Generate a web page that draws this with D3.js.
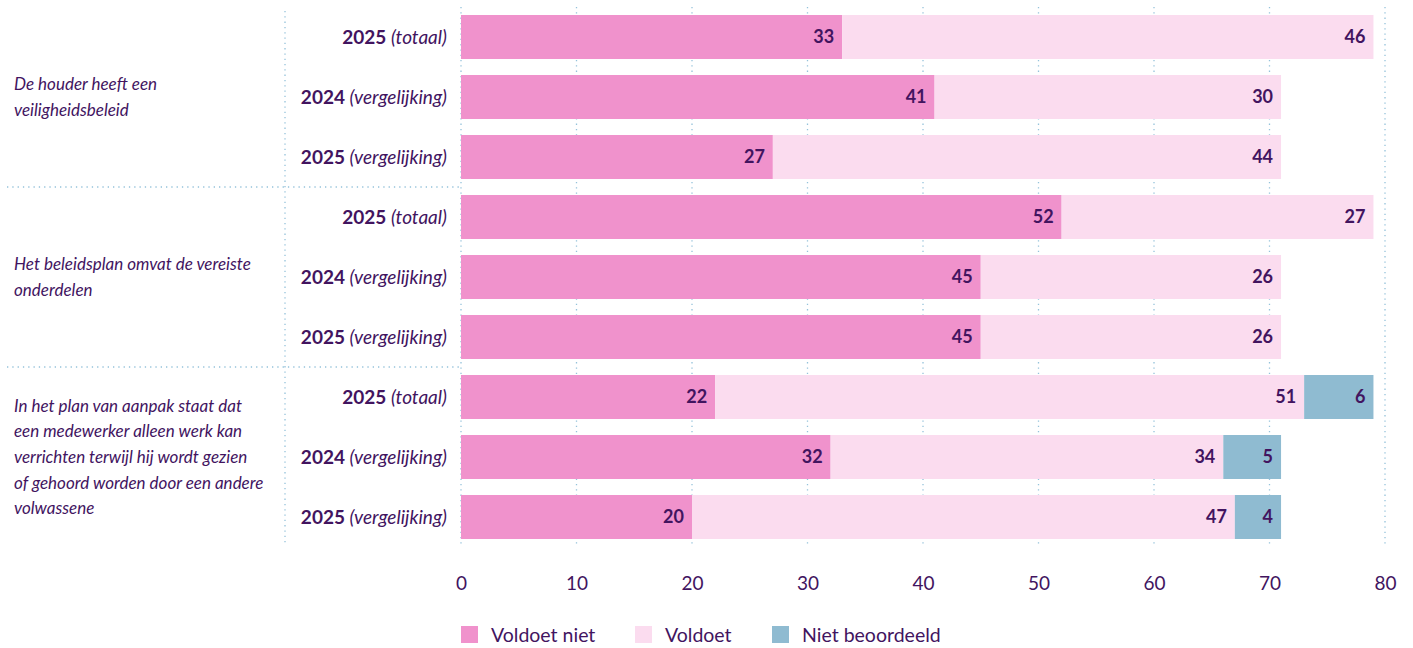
<!DOCTYPE html>
<html>
<head>
<meta charset="utf-8">
<script src="https://cdn.jsdelivr.net/npm/d3@7"></script>
<style>
    body { margin: 0; background: #fff; }
    text { font-family: Lato, "Open Sans", sans-serif; fill: #42145f; }
</style>
</head>
<body>
<script>
// Data
const groups = [
    ["De houder heeft een", "veiligheidsbeleid"],
    ["Het beleidsplan omvat de vereiste", "onderdelen"],
    ["In het plan van aanpak staat dat", "een medewerker alleen werk kan", "verrichten terwijl hij wordt gezien", "of gehoord worden door een andere", "volwassene"]
];
const rowYears = ["2025", "2024", "2025"];
const rowNotes = ["(totaal)", "(vergelijking)", "(vergelijking)"];
const seriesNames = ["Voldoet niet", "Voldoet", "Niet beoordeeld"];
const seriesColours = ["#f092cc", "#fbdcef", "#8fbbd1"];
const voldoetNiet = [33, 41, 27, 52, 45, 45, 22, 32, 20];
const voldoet = [46, 30, 44, 27, 26, 26, 51, 34, 47];
const nietBeoordeeld = [0, 0, 0, 0, 0, 0, 6, 5, 4];
const xTicks = [0, 10, 20, 30, 40, 50, 60, 70, 80];

const width = 1413, height = 648;
const margin = {top: 7, left: 461, right: 28};
const rowStep = 60;
const plotBottom = 545;
const gridColour = "#94c2da";

const svg = d3.select("body").append("svg")
    .attr("width", width)
    .attr("height", height);

const x = d3.scaleLinear().domain([0, 80]).range([margin.left, width - margin.right]);
const y = d3.scaleBand().domain(d3.range(9)).range([margin.top, margin.top + 9 * rowStep])
    .paddingInner(16 / 60).paddingOuter(8 / 60);

const rows = d3.range(9).map(i => ({
    index: i,
    values: [voldoetNiet[i], voldoet[i], nietBeoordeeld[i]]
}));

const dotted = sel => sel
    .attr("stroke", gridColour)
    .attr("stroke-width", 1.3)
    .attr("stroke-dasharray", "1.3,4");

// Vertical dotted gridlines
svg.append("g").selectAll("line")
    .data(xTicks)
    .enter().append("line")
    .attr("x1", d => x(d)).attr("x2", d => x(d))
    .attr("y1", margin.top).attr("y2", plotBottom)
    .call(dotted);

// Separator between group labels and row labels
svg.append("line")
    .attr("x1", 285).attr("x2", 285)
    .attr("y1", 11).attr("y2", plotBottom)
    .call(dotted);

// Horizontal separators between groups
[1, 2].forEach(g => {
    const yy = y(g * 3) - 8;
    svg.append("line")
        .attr("x1", 7).attr("x2", margin.left)
        .attr("y1", yy).attr("y2", yy)
        .call(dotted);
});

// Stacked bars
const stackRows = svg.append("g").selectAll("g")
    .data(rows)
    .enter().append("g");

stackRows.each(function (row) {
    let start = 0;
    const g = d3.select(this);
    row.values.forEach((v, s) => {
        if (v > 0) {
            g.append("rect")
                .attr("x", x(start))
                .attr("y", y(row.index))
                .attr("width", x(start + v) - x(start))
                .attr("height", y.bandwidth())
                .attr("fill", seriesColours[s]);
            g.append("text")
                .attr("x", x(start + v) - 8)
                .attr("y", y(row.index) + y.bandwidth() / 2)
                .attr("dy", "0.35em")
                .attr("text-anchor", "end")
                .style("font-size", "18px")
                .style("font-weight", 700)
                .text(v);
        }
        start += v;
    });
});

// Row labels
const rowLabels = svg.append("g").selectAll("text")
    .data(rows)
    .enter().append("text")
    .attr("x", 447)
    .attr("y", d => y(d.index) + y.bandwidth() / 2)
    .attr("dy", "0.35em")
    .attr("text-anchor", "end")
    .style("font-size", "19px");
rowLabels.append("tspan").style("font-weight", 700).text(d => rowYears[d.index % 3] + " ");
rowLabels.append("tspan").style("font-style", "italic").text(d => rowNotes[d.index % 3]);

// Group labels
groups.forEach((lines, g) => {
    const centre = y(g * 3 + 1) + y.bandwidth() / 2;
    const lineHeight = 25.7;
    const first = centre - (lines.length - 1) * lineHeight / 2;
    svg.append("text")
        .attr("x", 14)
        .style("font-size", "17px")
        .style("font-style", "italic")
        .selectAll("tspan")
        .data(lines)
        .enter().append("tspan")
        .attr("x", 14)
        .attr("y", (d, i) => first + i * lineHeight)
        .attr("dy", "0.35em")
        .text(d => d);
});

// X axis labels
const xAxis = d3.axisBottom(x).tickValues(xTicks).tickSize(0).tickPadding(0);
svg.append("g")
    .attr("transform", "translate(0,576)")
    .call(xAxis)
    .call(g => g.select(".domain").remove())
    .call(g => g.selectAll("text")
        .style("font-family", "Lato, sans-serif")
        .style("font-size", "19px")
        .attr("fill", "#42145f"));

// Legend
const legendX = [461, 635, 772];
const legend = svg.append("g").selectAll("g")
    .data(seriesNames)
    .enter().append("g")
    .attr("transform", (d, i) => "translate(" + legendX[i] + ",626)");
legend.append("rect")
    .attr("width", 17).attr("height", 17)
    .attr("fill", (d, i) => seriesColours[i]);
legend.append("text")
    .attr("x", 30).attr("y", 9)
    .attr("dy", "0.35em")
    .style("font-size", "19.5px")
    .text(d => d);
</script>
</body>
</html>
